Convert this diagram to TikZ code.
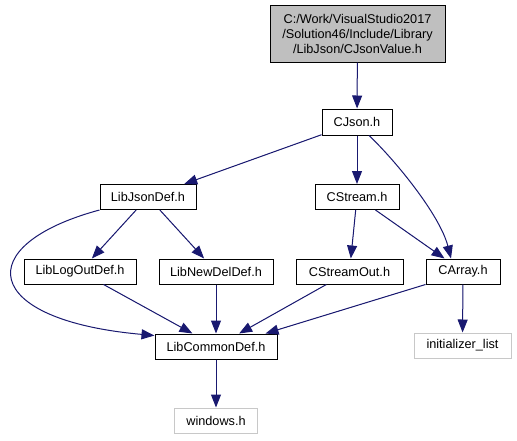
\documentclass[tikz,border=0pt]{standalone}
\usepackage{fontspec}
\setmainfont{Liberation Sans}
\usetikzlibrary{arrows.meta,positioning}
\definecolor{edgeblue}{HTML}{191970}
\definecolor{topgray}{HTML}{BFBFBF}
\definecolor{extgray}{HTML}{C8C8C8}

\begin{document}
\begin{tikzpicture}[x=1pt,y=-1pt,
  file/.style={draw=black,line width=1pt,fill=white,minimum height=25pt,
    inner sep=0pt,font=\fontsize{12.7}{15}\selectfont},
  topfile/.style={file,fill=topgray,align=center,minimum width=175pt,minimum height=57pt},
  extfile/.style={file,draw=extgray},
  dep/.style={-{Triangle[length=13pt,width=10pt]},line width=1pt,draw=edgeblue,fill=edgeblue}
]
\useasboundingbox (0,0) rectangle (517,440);
\node[topfile] (value) at (357.5,33.5) {C:/Work/VisualStudio2017\\/Solution46/Include/Library\\/LibJson/CJsonValue.h};
\node[file,minimum width=70pt,minimum height=26pt] (cjson) at (357,122) {CJson.h};
\node[file,minimum width=96pt] (libjson) at (148,197) {LibJsonDef.h};
\node[file,minimum width=84pt] (cstream) at (357,197) {CStream.h};
\node[file,minimum width=112pt] (liblog) at (80,271.5) {LibLogOutDef.h};
\node[file,minimum width=114pt] (libnew) at (216,271.5) {LibNewDelDef.h};
\node[file,minimum width=107pt] (cstreamout) at (349.5,271.5) {CStreamOut.h};
\node[file,minimum width=74pt] (carray) at (463,271.5) {CArray.h};
\node[file,minimum width=122pt] (libcommon) at (216,346.5) {LibCommonDef.h};
\node[extfile,minimum width=83pt] (windows) at (216,420.5) {windows.h};
\node[extfile,minimum width=97pt] (initlist) at (462.5,345.5) {initializer\_list};
% include edges
\draw[dep] (value) -- (cjson);
\draw[dep] (cjson) -- (libjson);
\draw[dep] (cjson) -- (cstream);
\draw[dep,fill=none] ([xshift=12pt]cjson.south) .. controls (395,160) and (440,215) .. ([xshift=-12pt]carray.north);
\draw[dep,fill=none] (libjson.south west) .. controls (-30,245) and (-20,320) .. ([yshift=-2pt]libcommon.north west);
\draw[dep] (libjson) -- (liblog);
\draw[dep] (libjson) -- (libnew);
\draw[dep] (cstream) -- (cstreamout);
\draw[dep] (cstream) -- (carray);
\draw[dep] (liblog) -- (libcommon);
\draw[dep] (libnew) -- (libcommon);
\draw[dep] (cstreamout) -- (libcommon);
\draw[dep] (carray.south west) -- ([xshift=-12pt]libcommon.north east);
\draw[dep] (carray) -- (initlist);
\draw[dep] (libcommon) -- (windows);
\end{tikzpicture}
\end{document}
